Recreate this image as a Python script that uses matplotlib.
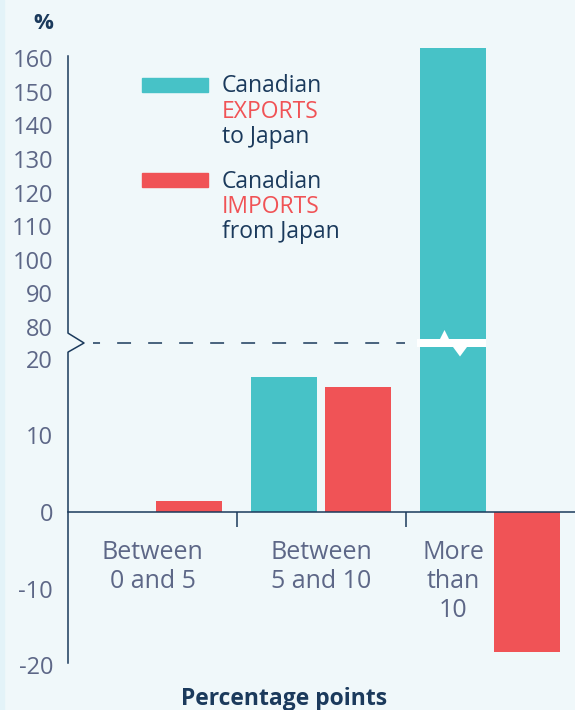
import numpy as np
import matplotlib
matplotlib.use("Agg")
import matplotlib.pyplot as plt
from matplotlib.patches import Rectangle, Polygon

plt.rcParams['font.family'] = ['Open Sans', 'DejaVu Sans']
plt.rcParams['font.weight'] = 'medium'

# data: tariff change buckets (percentage points) vs. % change in trade
categories = ['Between\n0 and 5', 'Between\n5 and 10', 'More\nthan\n10']
exports = [0.0, 17.6, 163.0]
imports = [1.4, 16.3, -18.3]
yticks = [-20, -10, 0, 10, 20, 80, 90, 100, 110, 120, 130, 140, 150, 160]

BG = '#f0f8fa'
TEAL = '#47c2c7'
RED = '#f05356'
NAVY = '#1b3a5c'
GRAY = '#5d6787'

W, H = 575, 710

# broken y scale: -20..~21 linear, squeezed gap, then ~78..160 at a smaller slope
LO_SLOPE, HI_SLOPE = 7.65, 3.36
BRK_LO, BRK_HI, GAP = 20.9, 78.2, 19.0
knot_v = np.array([-1000.0, BRK_LO, BRK_HI, 1000.0])
knot_f = np.array([-1000.0 * LO_SLOPE, BRK_LO * LO_SLOPE,
                   BRK_LO * LO_SLOPE + GAP,
                   BRK_LO * LO_SLOPE + GAP + (1000.0 - BRK_HI) * HI_SLOPE])


def fwd(v):
    return np.interp(np.asarray(v, dtype=float), knot_v, knot_f)


def inv(f):
    return np.interp(np.asarray(f, dtype=float), knot_f, knot_v)


def fx(px):
    return px / W


def fy(py):
    return 1 - py / H


ZERO_PX = 512
YLIM = (-20.5, 163.3)
bottom_px = ZERO_PX - fwd(YLIM[0])
top_px = ZERO_PX - fwd(YLIM[1])
LEFT_PX, GROUP_PX = 68, 169.0


def val_at(py):
    return float(inv(ZERO_PX - py))


def x_at(px):
    return (px - LEFT_PX) / GROUP_PX


fig = plt.figure(figsize=(W / 100, H / 100), dpi=100)
fig.patch.set_facecolor(BG)
fig.patches.append(Rectangle((0, 0), fx(4), 1, transform=fig.transFigure,
                             color='#e3f3f8', zorder=0))

ax = fig.add_axes([fx(LEFT_PX), fy(bottom_px), fx(W) - fx(LEFT_PX),
                   (bottom_px - top_px) / H])
ax.set_facecolor(BG)
ax.set_yscale('function', functions=(fwd, inv))
ax.set_ylim(*YLIM)
ax.set_xlim(0, 3)

x = np.arange(len(categories))
bw = 66 / GROUP_PX
ax.bar(x + 0.281, exports, width=bw, color=TEAL, zorder=2)
ax.bar(x + 0.716, imports, width=bw, color=RED, zorder=2)

# white break across the tall bar
bx0, bx1 = x_at(417), x_at(486)
vt, vb = val_at(339), val_at(347)
brk = [(bx0, vt), (x_at(440), vt), (x_at(444.5), val_at(330)), (x_at(449), vt),
       (bx1, vt), (bx1, vb), (x_at(467), vb), (x_at(460), val_at(356.5)),
       (x_at(453), vb), (bx0, vb)]
ax.add_patch(Polygon(brk, closed=True, color='white', zorder=3, lw=0))

# dashed guide at the break
mid = val_at(343)
ax.plot([x_at(93), x_at(405)], [mid, mid], color=NAVY, lw=1.1,
        linestyle=(4.5, (9.1, 11.2)), zorder=1)

# y axis line with the zigzag
ax.plot([0, 0, x_at(84), 0, 0],
        [val_at(663), BRK_LO, mid, BRK_HI, val_at(56)],
        color=NAVY, lw=1.1, clip_on=False, zorder=4)

for s in ['left', 'right', 'top']:
    ax.spines[s].set_visible(False)
ax.spines['bottom'].set_position(('data', 0))
ax.spines['bottom'].set_color(NAVY)
ax.spines['bottom'].set_linewidth(1.1)
ax.spines['bottom'].set_zorder(4)

ax.set_xticks([1, 2])
ax.set_xticklabels([])
ax.tick_params(axis='x', length=10.8, width=1.1, color=NAVY, direction='out')

ax.set_yticks(yticks)
ax.set_yticklabels([str(t) for t in yticks])
ax.yaxis.set_minor_locator(matplotlib.ticker.NullLocator())
ax.tick_params(axis='y', length=0, pad=10.8, labelsize=17, labelcolor=GRAY)

# category names, one line at a time under the zero line
label_x = [0.5, 1.5, 2.281]
for lx, lab in zip(label_x, categories):
    for i, line in enumerate(lab.split('\n')):
        ax.annotate(line, xy=(lx, 0), xytext=(0, ZERO_PX - 559 - 29 * i),
                    textcoords='offset pixels', ha='center', va='baseline',
                    fontsize=18, color=GRAY)

fig.text(fx(43), fy(29), '%', ha='center', va='baseline', fontsize=16,
         fontweight='bold', color=NAVY)
fig.text(fx(284), fy(705), 'Percentage points', ha='center', va='baseline',
         fontsize=16.5, fontweight='bold', color=NAVY)

# legend
legend = [
    (TEAL, 78, [('Canadian', NAVY, 92), ('EXPORTS', RED, 118), ('to Japan', NAVY, 143)]),
    (RED, 173, [('Canadian', NAVY, 188), ('IMPORTS', RED, 213), ('from Japan', NAVY, 238)]),
]
for color, sy, lines in legend:
    fig.patches.append(Rectangle((fx(142), fy(sy + 14)), fx(66), 14 / H,
                                 transform=fig.transFigure, color=color))
    for txt, c, by in lines:
        fig.text(fx(222), fy(by), txt, ha='left', va='baseline',
                 fontsize=16.5, color=c)

fig.savefig('out.png', dpi=100, facecolor=BG)
